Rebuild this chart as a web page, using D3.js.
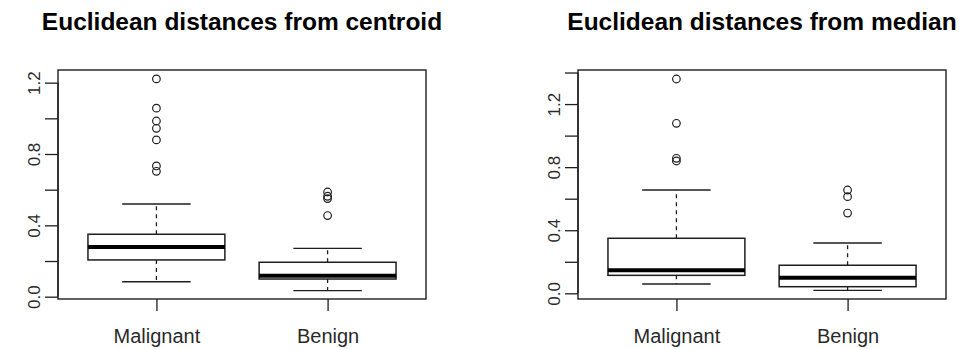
<!DOCTYPE html>
<html>
<head>
<meta charset="utf-8">
<script src="https://cdn.jsdelivr.net/npm/d3@7"></script>
<style>
  html, body { margin: 0; padding: 0; background: #fff; }
  svg { display: block; font-family: "Liberation Sans", Arial, sans-serif; }
</style>
</head>
<body>
<svg id="chart" width="961" height="349"></svg>
<script>
// Group labels shared by both panels
const categories = ["Malignant", "Benign"];

// Panel titles
const titles = ["Euclidean distances from centroid", "Euclidean distances from median"];

// Y tick values and which of them carry a label
const tickValuesCentroid = [0, 0.2, 0.4, 0.6, 0.8, 1.0, 1.2];
const tickValuesMedian = [0, 0.2, 0.4, 0.6, 0.8, 1.0, 1.2, 1.4];
const tickLabels = ["0.0", "0.4", "0.8", "1.2"];

// Five-number summaries [lower whisker, Q1, median, Q3, upper whisker]
const centroidMalignant = [0.084, 0.206, 0.279, 0.350, 0.520];
const centroidBenign = [0.034, 0.099, 0.118, 0.193, 0.271];
const medianMalignant = [0.059, 0.114, 0.146, 0.349, 0.655];
const medianBenign = [0.019, 0.042, 0.099, 0.178, 0.319];

// Outlying observations
const centroidMalignantOut = [1.221, 1.057, 0.985, 0.944, 0.879, 0.733, 0.703];
const centroidBenignOut = [0.587, 0.563, 0.550, 0.455];
const medianMalignantOut = [1.359, 1.078, 0.856, 0.839];
const medianBenignOut = [0.655, 0.613, 0.509];

// Y-axis domains (data range padded by 4%)
const domainCentroid = [-0.013, 1.271];
const domainMedian = [-0.036, 1.416];

const panels = [
  {
    title: titles[0],
    left: 58, right: 426, top: 70, bottom: 299,
    domain: domainCentroid, ticks: tickValuesCentroid,
    stats: [centroidMalignant, centroidBenign],
    outliers: [centroidMalignantOut, centroidBenignOut]
  },
  {
    title: titles[1],
    left: 578, right: 946, top: 70, bottom: 299,
    domain: domainMedian, ticks: tickValuesMedian,
    stats: [medianMalignant, medianBenign],
    outliers: [medianMalignantOut, medianBenignOut]
  }
];

const svg = d3.select("#chart");
const ink = "#1e1e1e";
const textInk = "#2a2a2a";

panels.forEach(p => {
  const g = svg.append("g");
  const y = d3.scaleLinear().domain(p.domain).range([p.bottom, p.top]);
  const x = d3.scaleLinear().domain([0.425, 2.575]).range([p.left, p.right]);

  // Title
  g.append("text")
    .attr("x", (p.left + p.right) / 2)
    .attr("y", 30)
    .attr("text-anchor", "middle")
    .attr("font-size", 24.5)
    .attr("font-weight", "bold")
    .attr("fill", "#000")
    .text(p.title);

  // Y axis: ticks outward, labels rotated
  const yAxis = d3.axisLeft(y)
    .tickValues(p.ticks)
    .tickSize(13)
    .tickPadding(18)
    .tickFormat(d => {
      const s = d3.format(".1f")(d);
      return tickLabels.includes(s) ? s : "";
    });
  const ya = g.append("g")
    .attr("transform", `translate(${p.left},0)`)
    .call(yAxis);
  ya.select(".domain").remove();
  ya.selectAll(".tick line").attr("stroke", ink).attr("stroke-width", 1.3);
  ya.selectAll(".tick text")
    .attr("fill", textInk)
    .attr("font-size", 17)
    .attr("font-family", "\"Liberation Sans\", Arial, sans-serif")
    .attr("transform", "rotate(-90)")
    .attr("x", 0)
    .attr("y", -18)
    .attr("dy", 0)
    .attr("text-anchor", "middle");
  // Axis line from first to last tick
  g.append("line")
    .attr("x1", p.left).attr("x2", p.left)
    .attr("y1", y(p.ticks[0])).attr("y2", y(p.ticks[p.ticks.length - 1]))
    .attr("stroke", ink).attr("stroke-width", 1.3);

  // X axis: ticks at group positions, category labels
  const xAxis = d3.axisBottom(x)
    .tickValues([1, 2])
    .tickSize(12)
    .tickPadding(20)
    .tickFormat((d, i) => categories[i]);
  const xa = g.append("g")
    .attr("transform", `translate(0,${p.bottom})`)
    .call(xAxis);
  xa.select(".domain").remove();
  xa.selectAll(".tick line").attr("stroke", ink).attr("stroke-width", 1.3);
  xa.selectAll(".tick text")
    .attr("fill", textInk)
    .attr("font-size", 20)
    .attr("font-family", "\"Liberation Sans\", Arial, sans-serif")
    .attr("dy", 0)
    .attr("y", 44);

  // Boxes
  p.stats.forEach((s, i) => {
    const cx = x(i + 1);
    const half = x(i + 1 + 0.4) - cx;
    const capHalf = x(i + 1 + 0.2) - cx;
    const [lo, q1, med, q3, hi] = s;

    // Dashed whiskers
    g.append("line")
      .attr("x1", cx).attr("x2", cx)
      .attr("y1", y(q3)).attr("y2", y(hi))
      .attr("stroke", ink).attr("stroke-width", 1.3)
      .attr("stroke-dasharray", "4,4");
    g.append("line")
      .attr("x1", cx).attr("x2", cx)
      .attr("y1", y(q1)).attr("y2", y(lo))
      .attr("stroke", ink).attr("stroke-width", 1.3)
      .attr("stroke-dasharray", "4,4");
    // Whisker caps
    [lo, hi].forEach(v => {
      g.append("line")
        .attr("x1", cx - capHalf).attr("x2", cx + capHalf)
        .attr("y1", y(v)).attr("y2", y(v))
        .attr("stroke", ink).attr("stroke-width", 1.4);
    });
    // Box
    g.append("rect")
      .attr("x", cx - half).attr("width", 2 * half)
      .attr("y", y(q3)).attr("height", y(q1) - y(q3))
      .attr("fill", "#fff")
      .attr("stroke", ink).attr("stroke-width", 1.5);
    // Median
    g.append("line")
      .attr("x1", cx - half).attr("x2", cx + half)
      .attr("y1", y(med)).attr("y2", y(med))
      .attr("stroke", "#000").attr("stroke-width", 4);

    // Outliers
    g.selectAll(null)
      .data(p.outliers[i])
      .enter().append("circle")
      .attr("cx", cx)
      .attr("cy", d => y(d))
      .attr("r", 3.8)
      .attr("fill", "none")
      .attr("stroke", ink)
      .attr("stroke-width", 1.2);
  });

  // Plot frame
  g.append("rect")
    .attr("x", p.left).attr("y", p.top)
    .attr("width", p.right - p.left).attr("height", p.bottom - p.top)
    .attr("fill", "none")
    .attr("stroke", ink).attr("stroke-width", 1.4);
});
</script>
</body>
</html>
